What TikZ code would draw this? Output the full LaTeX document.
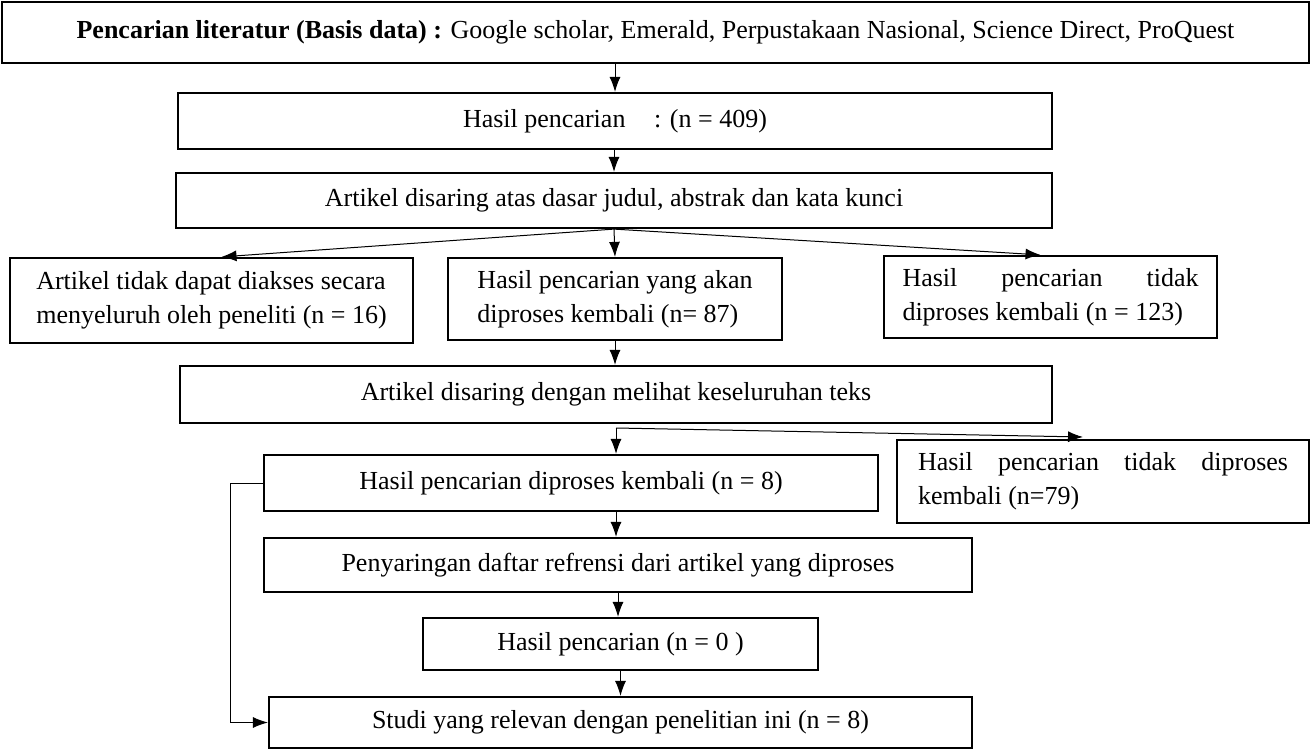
\documentclass[tikz,border=0pt]{standalone}
\usepackage{fontspec}
\setmainfont{Liberation Serif}
\usetikzlibrary{arrows.meta,calc,positioning}

\begin{document}
\begin{tikzpicture}[x=0.5pt, y=-0.5pt,
    box/.style={draw, line width=1.1pt, inner sep=0pt, align=center,
        font=\fontsize{13}{17}\selectfont},
    twoline/.style={text width=#1, align=justify},
    arr/.style={-{Latex[length=7.5pt,width=5.5pt]}, line width=0.5pt}]
    \useasboundingbox (0,0) rectangle (1311,749);
    \node[box, minimum width=653.5pt, minimum height=30.5pt] (cari) at (655.5,32.5)
        {\textbf{Pencarian literatur (Basis data) :} Google scholar, Emerald, Perpustakaan Nasional, Science Direct, ProQuest};
    \node[box, minimum width=437pt, minimum height=28pt] (hasil) at (615,121)
        {Hasil pencarian\hspace{1.1em}: (n = 409)};
    \node[box, minimum width=438pt, minimum height=27.5pt] (judul) at (614,200.5)
        {Artikel disaring atas dasar judul, abstrak dan kata kunci};
    \node[box, minimum width=201.5pt, minimum height=42.5pt, align=left] (akses) at (211.5,300.5)
        {Artikel tidak dapat diakses secara\\ menyeluruh oleh peneliti (n = 16)};
    \node[box, minimum width=167pt, minimum height=41pt, align=left] (proses) at (615,299)
        {Hasil pencarian yang akan\\ diproses kembali (n= 87)};
    \node[box, minimum width=166.5pt, minimum height=41pt, twoline=148pt] (tolak) at (1050.5,297)
        {Hasil pencarian tidak\linebreak diproses kembali (n = 123)};
    \node[box, minimum width=436pt, minimum height=28.5pt] (teks) at (616,394.5)
        {Artikel disaring dengan melihat keseluruhan teks};
    \node[box, minimum width=206pt, minimum height=41.5pt, twoline=185pt] (tolak2) at (1103,481.5)
        {Hasil pencarian tidak diproses\linebreak kembali (n=79)};
    \node[box, minimum width=307pt, minimum height=28pt] (lolos) at (571,483)
        {Hasil pencarian diproses kembali (n = 8)};
    \node[box, minimum width=354pt, minimum height=27pt] (refrensi) at (618,565)
        {Penyaringan daftar refrensi dari artikel yang diproses};
    \node[box, minimum width=197.5pt, minimum height=26pt] (nol) at (620.5,644)
        {Hasil pencarian (n = 0 )};
    \node[box, minimum width=351.5pt, minimum height=25.5pt] (studi) at (620.5,722.5)
        {Studi yang relevan dengan penelitian ini (n = 8)};
    \coordinate (pisah) at (616,428);
    \coordinate (ujung) at (1083,437);

    \draw[arr] (cari.south -| hasil.north) -- (hasil.north);
    \draw[arr] (hasil.south -| judul.north) -- (judul.north);
    \draw[arr] (judul.south) -- ($(akses.north)+(10,0)$);
    \draw[arr] (judul.south) -- (proses.north);
    \draw[arr] (judul.south) -- ($(tolak.north)+(-10,0)$);
    \draw[arr] (proses.south) -- (proses.south |- teks.north);
    \draw[arr] (pisah) -- (pisah |- lolos.north);
    \draw[arr] (pisah) -- (ujung);
    \draw[arr] (pisah |- lolos.south) -- (pisah |- refrensi.north);
    \draw[arr] (refrensi.south) -- (refrensi.south |- nol.north);
    \draw[arr] (nol.south) -- (studi.north);
    \draw[arr] (lolos.west) -- ++(-32,0) |- (studi.west);
\end{tikzpicture}
\end{document}
